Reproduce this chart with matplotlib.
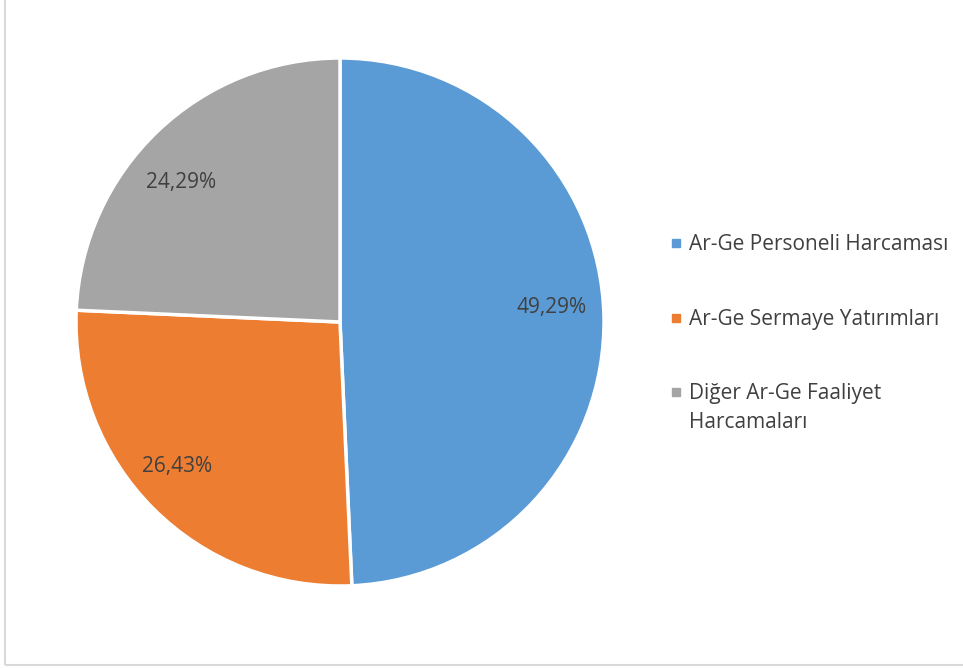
"""Ar-Ge harcamalarinin dagilimi (pasta grafik)."""
import numpy as np
import matplotlib.pyplot as plt
from matplotlib.patches import Rectangle

categories = ["Ar-Ge Personeli Harcaması",
              "Ar-Ge Sermaye Yatırımları",
              "Diğer Ar-Ge Faaliyet\nHarcamaları"]
shares = [49.29, 26.43, 24.29]
colors = ["#5B9BD5", "#ED7D31", "#A5A5A5"]

plt.rcParams['font.family'] = ['Open Sans', 'DejaVu Sans']
txt_color = "#404040"

W, H = 963, 668
fig = plt.figure(figsize=(W / 100, H / 100), dpi=100)

# outer frame (chart area border)
fig.patches.append(Rectangle((5 / W, 3 / H), 1.0, 1.0, transform=fig.transFigure,
                             fill=False, edgecolor="#D9D9D9", linewidth=1.5))

ax = fig.add_axes([76 / W, 82 / H, 528 / W, 528 / H])
wedges, texts = ax.pie(
    shares, colors=colors, startangle=90, counterclock=False,
    wedgeprops=dict(edgecolor="white", linewidth=2.5))
ax.set_xlim(-1, 1)
ax.set_ylim(-1, 1)
ax.set_aspect("equal")

# percentage labels, "best fit" style: a little off the wedge middle
nudge = [2.7, -3.3, 5.0]
dist = [0.805, 0.825, 0.80]
for w, v, dn, r in zip(wedges, shares, nudge, dist):
    ang = np.deg2rad((w.theta1 + w.theta2) / 2 + dn)
    ax.text(r * np.cos(ang), r * np.sin(ang), ("%.2f%%" % v).replace(".", ","),
            ha="center", va="center", fontsize=15, color=txt_color)

# legend on the right
ys = [243, 318, 392]
for lab, c, y in zip(categories, colors, ys):
    fig.patches.append(Rectangle((672 / W, (H - y - 4) / H), 8 / W, 8 / H,
                                 transform=fig.transFigure, color=c))
    first, _, rest = lab.partition("\n")
    fig.text(689 / W, (H - y - 7) / H, first, fontsize=15, color=txt_color,
             va="baseline", ha="left")
    if rest:
        fig.text(689 / W, (H - y - 36) / H, rest, fontsize=15, color=txt_color,
                 va="baseline", ha="left")

fig.savefig("out.png", dpi=100)
